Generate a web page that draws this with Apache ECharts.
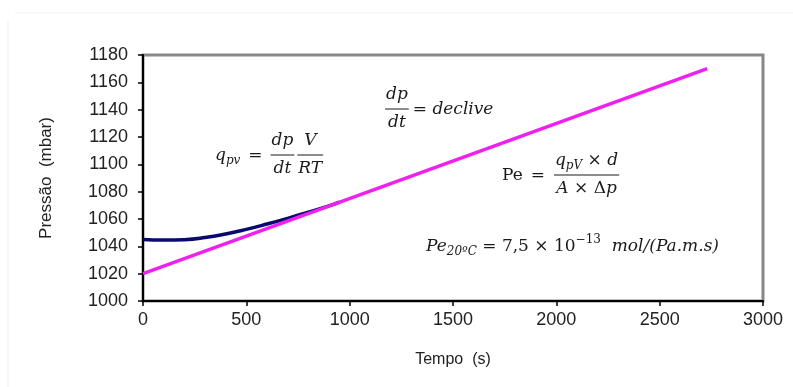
<!DOCTYPE html>
<html><head><meta charset="utf-8">
<script src="https://cdn.jsdelivr.net/npm/echarts@6/dist/echarts.min.js"></script>
<style>html,body{margin:0;padding:0;background:#fff}#c{width:793px;height:387px}</style>
</head><body><div id="c"></div>
<script>
// ---- data ----
const xTicks = [0, 500, 1000, 1500, 2000, 2500, 3000];
const yTicks = [1000, 1020, 1040, 1060, 1080, 1100, 1120, 1140, 1160, 1180];
const measuredTime = [0, 100, 200, 300, 400, 500, 600, 700, 800, 900, 950];
const measuredPressure = [1045, 1044.6, 1044.9, 1046.4, 1049, 1052.4, 1056.3, 1060.5, 1065, 1069.6, 1072.3];
const fitTime = [0, 2730];
const fitPressure = [1020, 1170];

const chart = echarts.init(document.getElementById('c'));

// ---- formula layout helpers ----
const cv = document.createElement('canvas').getContext('2d');
const SERIF = '"DejaVu Serif", serif';
const FS = 17, SUB = 12;
function fontStr(p){ return (p.italic===false?'':'italic ') + (p.size||FS) + 'px ' + SERIF; }
function tw(p){ cv.font = fontStr(p); return cv.measureText(p.t).width; }
function rowW(parts){ return parts.reduce((s,p)=>s+tw(p)+(p.gap||0),0); }
function drawRow(parts, x0, y, out){
  let cx = x0;
  parts.forEach(p=>{
    out.push({type:'text', x: cx, y: y + (p.dy||0), style:{text:p.t, font:fontStr(p), fill:'#1a1a1a', textVerticalAlign:'middle', textAlign:'left'}});
    cx += tw(p) + (p.gap||0);
  });
}
function itemW(it){ return it.num ? Math.max(rowW(it.num), rowW(it.den)) + 2 : rowW(it.parts); }
function formula(items, x, y, anchor, out){
  const total = items.reduce((s,it)=>s+itemW(it)+(it.after||0),0);
  let cx = anchor==='center' ? x-total/2 : anchor==='right' ? x-total : x;
  items.forEach(it=>{
    const w = itemW(it);
    if (it.num){
      const c = cx + w/2;
      drawRow(it.num, c - rowW(it.num)/2, y-14, out);
      drawRow(it.den, c - rowW(it.den)/2, y+14, out);
      out.push({type:'line', shape:{x1:cx,y1:y,x2:cx+w,y2:y}, style:{stroke:'#1a1a1a', lineWidth:1}});
    } else {
      drawRow(it.parts, cx, y+1, out);
    }
    cx += w + (it.after||0);
  });
}
const g = [];
const up = {italic:false};
formula([
  {parts:[{t:'q'},{t:'pv',size:SUB,dy:5}], after:8},
  {parts:[Object.assign({t:'='},up)], after:8},
  {num:[{t:'dp'}], den:[{t:'dt'}], after:3},
  {num:[{t:'V'}], den:[{t:'RT'}]}
], 215, 155, 'left', g);
formula([
  {num:[{t:'dp'}], den:[{t:'dt'}], after:4},
  {parts:[Object.assign({t:'= '},up),{t:'declive'}]}
], 385, 109, 'left', g);
formula([
  {parts:[Object.assign({t:'Pe'},up)], after:8},
  {parts:[Object.assign({t:'='},up)], after:9},
  {num:[{t:'q'},{t:'pV',size:SUB,dy:5},Object.assign({t:' × '},up),{t:'d'}],
   den:[{t:'A'},Object.assign({t:' × '},up),Object.assign({t:'Δ'},up),{t:'p'}]}
], 502, 175, 'left', g);
formula([
  {parts:[{t:'Pe'},{t:'20ºC',size:SUB,dy:5},Object.assign({t:' = 7,5 × 10'},up),Object.assign({t:'−13',size:SUB,dy:-7},up),{t:'  mol/(Pa.m.s)'}]}
], 719, 246, 'right', g);

// faint outer frame
g.push({type:'line', shape:{x1:15,y1:13,x2:793,y2:13}, style:{stroke:'#efefef', lineWidth:1}});
g.push({type:'line', shape:{x1:8,y1:20,x2:8,y2:387}, style:{stroke:'#efefef', lineWidth:1}});

const labelStyle = {fontFamily:'"Liberation Sans", Arial, sans-serif', fontSize:18, color:'#222'};

chart.setOption({
  animation:false,
  backgroundColor:'#fff',
  grid:{left:143, right:30, top:55, bottom:86, show:true, borderColor:'#888', borderWidth:3, backgroundColor:'transparent'},
  xAxis:{type:'value', min:xTicks[0], max:xTicks[xTicks.length-1], interval:500,
    name:'Tempo  (s)', nameLocation:'middle', nameGap:51,
    nameTextStyle:Object.assign({}, labelStyle, {fontSize:16}),
    axisLine:{show:true, onZero:false, lineStyle:{color:'#000', width:2}},
    axisTick:{show:true, length:5, lineStyle:{color:'#000', width:1.5}},
    axisLabel:Object.assign({margin:10, showMinLabel:true, showMaxLabel:true, formatter:v=>String(v)}, labelStyle),
    splitLine:{show:false}},
  yAxis:{type:'value', min:yTicks[0], max:yTicks[yTicks.length-1], interval:20,
    name:'Pressão  (mbar)', nameLocation:'middle', nameGap:88,
    nameTextStyle:Object.assign({}, labelStyle, {fontSize:17}),
    axisLine:{show:true, onZero:false, lineStyle:{color:'#000', width:2}},
    axisTick:{show:true, length:5, lineStyle:{color:'#000', width:1.5}},
    axisLabel:Object.assign({margin:15, formatter:v=>String(v)}, labelStyle),
    splitLine:{show:false}},
  series:[
    {type:'line', data:measuredTime.map((t,i)=>[t, measuredPressure[i]]), smooth:true, showSymbol:false,
     lineStyle:{color:'#0a0a6e', width:3.5}, z:2},
    {type:'line', data:fitTime.map((t,i)=>[t, fitPressure[i]]), showSymbol:false,
     lineStyle:{color:'#f020f0', width:3.5}, z:3}
  ],
  graphic:g
});
</script></body></html>
